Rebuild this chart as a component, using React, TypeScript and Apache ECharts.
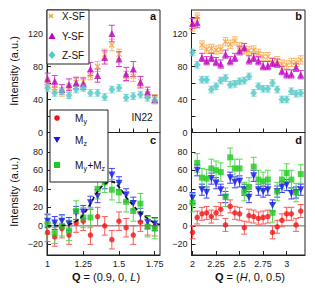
import React, { useEffect, useRef } from 'react';
import * as echarts from 'echarts';

const FF = "'Liberation Sans', Arial, Helvetica, sans-serif";

// Q values
const qL = [1.0, 1.05, 1.1, 1.15, 1.2, 1.25, 1.3, 1.35, 1.4, 1.45, 1.5, 1.55, 1.6, 1.65, 1.7, 1.75];
const qH = [2.0, 2.05, 2.1, 2.15, 2.2, 2.25, 2.3, 2.35, 2.4, 2.45, 2.5, 2.55, 2.6, 2.65, 2.7, 2.75, 2.8, 2.85, 2.9, 2.95, 3.0, 3.05, 3.1, 3.15];

// panel a
const xsfA = [61, 54, 49, 54, 61, 62, 69, 80, 95, 106, 95, 68, 68, 62, 47, 41];
const xsfAErr = [5, 5, 5, 5, 5, 5, 5, 6, 6, 7, 6, 6, 6, 6, 5, 5];
const ysfA = [65, 62, 52, 58, 60, 59, 77, 69, 91, 120, 89, 71, 77, 61, 49, 40];
const ysfAErr = [7, 7, 6, 7, 7, 7, 8, 8, 8, 10, 9, 8, 9, 7, 6, 5];
const zsfA = [54, 48, 50, 45, 52, 54, 48, 48, 43, 52, 54, 42, 44, 46, 42, 39];
const zsfAErr = [4, 4, 4, 4, 4, 4, 4, 4, 4, 4, 4, 4, 4, 4, 4, 4];

// panel b
const xsfB = [128, 140, 106, 101, 102, 100, 101, 110, 107, 111, 104, 100, 99, 100, 96, 92, 92, 85, 87, 83, 82, 85, 85, 88];
const xsfBErr = [5, 5, 5, 5, 5, 5, 5, 5, 5, 5, 5, 5, 5, 5, 5, 5, 5, 5, 5, 5, 5, 5, 5, 5];
const ysfB = [132, 133, 91, 87, 91, 86, 83, 95, 87, 91, 99, 103, 88, 91, 87, 81, 81, 85, 84, 75, 71, 71, 79, 70];
const ysfBErr = [6, 6, 5, 5, 5, 5, 5, 5, 5, 5, 5, 5, 5, 5, 5, 5, 5, 5, 5, 5, 5, 5, 5, 5];
const zsfB = [97, 82, 64, 64, 52, 56, 63, 66, 58, 59, 62, 63, 68, 48, 56, 53, 53, 60, 52, 40, 40, 50, 47, 48];
const zsfBErr = [4, 4, 4, 4, 4, 4, 4, 4, 4, 4, 4, 4, 4, 4, 4, 4, 4, 4, 4, 4, 4, 4, 4, 4];

// panel c
const myC = [-7, -12, -3, -10, 3, 5, -10, 10, 0, -15, 5, -2, -10, 4, 0, -1];
const myCErr = [10, 10, 10, 10, 10, 10, 10, 10, 10, 10, 10, 10, 10, 10, 10, 10];
const mzC = [5, 3, 5, 2, 14, 15, 25, 32, 47, 55, 46, 33, 24, 12, 4, 2];
const mzCErr = [7, 7, 7, 7, 7, 7, 7, 7, 7, 7, 7, 7, 7, 7, 7, 7];
const mymzC = [2, -8, 0, -5, 16, 9, 9, 40, 47, 39, 36, 26, 16, 24, -1, -3];
const mymzCErr = [11, 11, 11, 11, 11, 11, 11, 11, 11, 11, 11, 11, 11, 11, 11, 11];
const fitQ = [1.0, 1.1, 1.15, 1.2, 1.25, 1.3, 1.35, 1.4, 1.45, 1.5, 1.55, 1.6, 1.65, 1.7, 1.75, 1.787];
const fitY = [0, 0.3, 1.5, 5, 12, 24, 37, 45, 47.5, 42, 31, 22, 14, 8, 3, 1.5];

// panel d
const myD = [-7, 9, 13, 14, 10, 14, 18, 1, 21, 14, 13, -2, 11, 10, 8, 9, 10, -7, -1, 6, 13, 13, 1, 16];
const myDErr = [7, 7, 7, 7, 7, 7, 7, 7, 7, 7, 7, 7, 7, 7, 7, 7, 7, 7, 7, 7, 7, 7, 7, 7];
const mzD = [30, 60, 39, 36, 51, 46, 39, 31, 52, 47, 48, 39, 31, 54, 39, 37, 39, 22, 37, 42, 44, 35, 36, 39];
const mzDErr = [6, 6, 6, 6, 6, 6, 6, 6, 6, 6, 6, 6, 6, 6, 6, 6, 6, 6, 6, 6, 6, 6, 6, 6];
const mymzD = [25, 68, 52, 51, 62, 60, 58, 31, 74, 62, 62, 37, 42, 64, 50, 48, 50, 14, 37, 50, 57, 50, 36, 56];
const mymzDErr = [10, 10, 10, 10, 10, 10, 10, 10, 10, 10, 10, 10, 10, 10, 10, 10, 10, 10, 10, 10, 10, 10, 10, 10];

// axis ticks
const tickAx = [1.0, 1.1, 1.2, 1.3, 1.4, 1.5, 1.6, 1.7];
const tickCx = [1, 1.25, 1.5, 1.75];
const tickBDx = [2, 2.25, 2.5, 2.75, 3];
const tickABy = [0, 20, 40, 60, 80, 100, 120, 140];
const labelABy = [0, 40, 80, 120];
const tickCDy = [-20, 0, 20, 40, 60, 80];

const C = {
  orange: '#f5a030', orangeBar: '#f9b566',
  purple: '#c000c0', purpleBar: '#cf3fcf',
  teal: '#58c8c8', tealBar: '#8edcdc',
  red: '#f01515', redBar: '#ff5a5a',
  blue: '#1515ee', blueBar: '#4040ff',
  green: '#22c822', greenBar: '#55d855',
};

function errSeries(g: number, xs: number[], ys: number[], es: number[], color: string) {
  return {
    type: 'custom', xAxisIndex: g, yAxisIndex: g, silent: true, clip: false, z: 2,
    data: xs.map((x, i) => [x, ys[i], es[i]]),
    encode: { x: 0, y: 1 },
    renderItem: (params: any, api: any) => {
      const x = api.value(0), y = api.value(1), e = api.value(2);
      const t = api.coord([x, y + e]);
      const b = api.coord([x, y - e]);
      const w = 3;
      const st = { stroke: color, lineWidth: 1 };
      return {
        type: 'group', children: [
          { type: 'line', shape: { x1: t[0], y1: t[1], x2: b[0], y2: b[1] }, style: st },
          { type: 'line', shape: { x1: t[0] - w, y1: t[1], x2: t[0] + w, y2: t[1] }, style: st },
          { type: 'line', shape: { x1: b[0] - w, y1: b[1], x2: b[0] + w, y2: b[1] }, style: st },
        ],
      };
    },
  };
}

function markSeries(g: number, xs: number[], ys: number[], symbol: string, size: any, itemStyle: any, rotate = 0) {
  return {
    type: 'scatter', xAxisIndex: g, yAxisIndex: g, silent: true, z: 3,
    data: xs.map((x, i) => [x, ys[i]]),
    symbol, symbolSize: size, symbolRotate: rotate, itemStyle,
  };
}

const CROSS = 'path://M0,0L10,10M10,0L0,10';

function xAxis(g: number, min: number, max: number, ticks: number[], labels: number[] | null) {
  return {
    type: 'value', gridIndex: g, min, max,
    axisLine: { show: true, onZero: false, lineStyle: { color: '#222', width: 1 } },
    splitLine: { show: false },
    axisTick: { show: true, inside: true, length: 4, customValues: ticks, lineStyle: { color: '#222' } },
    axisLabel: labels
      ? { show: true, customValues: labels, fontSize: 9, color: '#222', fontFamily: FF, margin: 4, formatter: (v: number) => String(v) }
      : { show: false },
  };
}

function yAxis(g: number, min: number, max: number, ticks: number[], labels: number[]) {
  return {
    type: 'value', gridIndex: g, min, max,
    axisLine: { show: true, onZero: false, lineStyle: { color: '#222', width: 1 } },
    splitLine: { show: false },
    axisTick: { show: true, inside: true, length: 4, customValues: ticks, lineStyle: { color: '#222' } },
    axisLabel: {
      show: true, customValues: labels, fontSize: 9, color: '#222', fontFamily: FF, margin: 4,
      formatter: (v: number) => (v < 0 ? '\u2212' + Math.abs(v) : String(v)),
    },
  };
}

function txt(x: number, y: number, text: string, fontSize: number, extra: any = {}, align = 'left') {
  return {
    type: 'text', x, y, z: 100, silent: true,
    style: {
      text, fontSize, fontFamily: FF, fill: '#111',
      align, verticalAlign: 'middle', textAlign: align, textVerticalAlign: 'middle', ...extra,
    },
  };
}

export default function App() {
  const ref = useRef<HTMLDivElement>(null);
  useEffect(() => {
    if (!ref.current) return;
    const chart = echarts.init(ref.current, null, { renderer: 'svg' });
    const gridBase = { show: true, borderColor: '#222', borderWidth: 1, backgroundColor: 'transparent', containLabel: false, outerBoundsMode: 'none' };
    const option: any = {
      animation: false,
      grid: [
        { ...gridBase, left: 47, top: 10, width: 113, height: 122.5 },
        { ...gridBase, left: 191.5, top: 10, width: 113.5, height: 122.5 },
        { ...gridBase, left: 47, top: 132.5, width: 113, height: 122.5 },
        { ...gridBase, left: 191.5, top: 132.5, width: 113.5, height: 122.5 },
      ],
      xAxis: [
        xAxis(0, 0.996, 1.787, tickAx, null),
        xAxis(1, 1.989, 3.195, tickBDx, null),
        xAxis(2, 0.996, 1.787, tickCx, tickCx),
        xAxis(3, 1.989, 3.195, tickBDx, tickBDx),
      ],
      yAxis: [
        yAxis(0, 0, 148.5, tickABy, labelABy),
        yAxis(1, 0, 148.5, tickABy, labelABy),
        yAxis(2, -31.5, 100.8, tickCDy, tickCDy),
        yAxis(3, -31.5, 100.8, tickCDy, tickCDy),
      ],
      series: [
        // panel a
        errSeries(0, qL, xsfA, xsfAErr, C.orangeBar),
        markSeries(0, qL, xsfA, CROSS, 5, { color: 'none', borderColor: C.orange, borderWidth: 1.3 }),
        errSeries(0, qL, ysfA, ysfAErr, C.purpleBar),
        markSeries(0, qL, ysfA, 'triangle', 7, { color: C.purple }),
        errSeries(0, qL, zsfA, zsfAErr, C.tealBar),
        markSeries(0, qL, zsfA, 'diamond', [7, 8], { color: C.teal }),
        // panel b
        errSeries(1, qH, xsfB, xsfBErr, C.orangeBar),
        markSeries(1, qH, xsfB, CROSS, 5, { color: 'none', borderColor: C.orange, borderWidth: 1.3 }),
        errSeries(1, qH, ysfB, ysfBErr, C.purpleBar),
        markSeries(1, qH, ysfB, 'triangle', 7, { color: C.purple }),
        errSeries(1, qH, zsfB, zsfBErr, C.tealBar),
        markSeries(1, qH, zsfB, 'diamond', [7, 8], { color: C.teal }),
        // panel c
        {
          type: 'line', xAxisIndex: 2, yAxisIndex: 2, silent: true, z: 1, symbol: 'none',
          data: [[0.996, 0], [1.787, 0]], lineStyle: { color: '#666', width: 1 },
        },
        errSeries(2, qL, myC, myCErr, C.redBar),
        markSeries(2, qL, myC, 'circle', 5.5, { color: C.red }),
        errSeries(2, qL, mzC, mzCErr, C.blueBar),
        markSeries(2, qL, mzC, 'triangle', 7, { color: C.blue }, 180),
        errSeries(2, qL, mymzC, mymzCErr, C.greenBar),
        markSeries(2, qL, mymzC, 'rect', 6, { color: C.green }),
        {
          type: 'line', xAxisIndex: 2, yAxisIndex: 2, silent: true, z: 4, symbol: 'none', smooth: true,
          data: fitQ.map((q, i) => [q, fitY[i]]),
          lineStyle: { color: '#111', width: 1.6, type: [4, 3] },
        },
        // panel d
        {
          type: 'line', xAxisIndex: 3, yAxisIndex: 3, silent: true, z: 1, symbol: 'none',
          data: [[1.989, 0], [3.195, 0]], lineStyle: { color: '#666', width: 1 },
        },
        errSeries(3, qH, myD, myDErr, C.redBar),
        markSeries(3, qH, myD, 'circle', 5.5, { color: C.red }),
        errSeries(3, qH, mzD, mzDErr, C.blueBar),
        markSeries(3, qH, mzD, 'triangle', 7, { color: C.blue }, 180),
        errSeries(3, qH, mymzD, mymzDErr, C.greenBar),
        markSeries(3, qH, mymzD, 'rect', 6, { color: C.green }),
      ],
      graphic: [
        // legend a
        { type: 'rect', z: 100, shape: { x: 47, y: 10, width: 42, height: 54 }, style: { fill: '#fff', stroke: '#222', lineWidth: 1 } },
        { type: 'line', z: 101, shape: { x1: 49, y1: 14, x2: 53, y2: 18 }, style: { stroke: C.orange, lineWidth: 1.3 } },
        { type: 'line', z: 101, shape: { x1: 53, y1: 14, x2: 49, y2: 18 }, style: { stroke: C.orange, lineWidth: 1.3 } },
        txt(62, 16, 'X-SF', 10),
        { type: 'polygon', z: 101, shape: { points: [[52, 32.5], [55.5, 39], [48.5, 39]] }, style: { fill: C.purple } },
        txt(62, 36, 'Y-SF', 10),
        { type: 'polygon', z: 101, shape: { points: [[52, 51], [55.5, 55], [52, 59], [48.5, 55]] }, style: { fill: C.teal } },
        txt(62, 55, 'Z-SF', 10),
        // legend c
        { type: 'rect', z: 100, shape: { x: 50, y: 110, width: 58, height: 72 }, style: { fill: '#fff', stroke: '#222', lineWidth: 1 } },
        { type: 'circle', z: 101, shape: { cx: 57, cy: 118, r: 2.8 }, style: { fill: C.red } },
        txt(75, 118, 'M', 10),
        txt(83.5, 121.5, 'y', 7),
        { type: 'polygon', z: 101, shape: { points: [[53.5, 137], [60.5, 137], [57, 143]] }, style: { fill: C.blue } },
        txt(75, 140, 'M', 10),
        txt(83.5, 143.5, 'z', 7),
        { type: 'rect', z: 101, shape: { x: 54, y: 162, width: 6, height: 6 }, style: { fill: C.green } },
        txt(75, 165, 'M', 10),
        txt(83.5, 168.5, 'y', 7),
        txt(87.5, 165, '+M', 10),
        txt(101.5, 168.5, 'z', 7),
        // labels
        txt(142, 117, 'IN22', 10, {}, 'center'),
        txt(153, 16, 'a', 11, { fontWeight: 'bold' }, 'center'),
        txt(298.5, 16, 'b', 11, { fontWeight: 'bold' }, 'center'),
        txt(153, 140, 'c', 11, { fontWeight: 'bold' }, 'center'),
        txt(298.5, 140, 'd', 11, { fontWeight: 'bold' }, 'center'),
        { ...txt(14, 71, 'Intensity (a.u.)', 11, {}, 'center'), rotation: Math.PI / 2 },
        { ...txt(14, 192, 'Intensity (a.u.)', 11, {}, 'center'), rotation: Math.PI / 2 },
        txt(106, 277, '{b|Q} = (0.9, 0, {i|L})', 11, {
          rich: {
            b: { fontWeight: 'bold', fontSize: 11, fontFamily: FF, fill: '#111' },
            i: { fontStyle: 'italic', fontSize: 11, fontFamily: FF, fill: '#111' },
          },
        }, 'center'),
        txt(250, 277, '{b|Q} = ({i|H}, 0, 0.5)', 11, {
          rich: {
            b: { fontWeight: 'bold', fontSize: 11, fontFamily: FF, fill: '#111' },
            i: { fontStyle: 'italic', fontSize: 11, fontFamily: FF, fill: '#111' },
          },
        }, 'center'),
      ],
    };
    chart.setOption(option);
    return () => chart.dispose();
  }, []);
  return <div ref={ref} style={{ position: 'fixed', left: 0, top: 0, width: 315, height: 296, background: '#fff' }} />;
}
